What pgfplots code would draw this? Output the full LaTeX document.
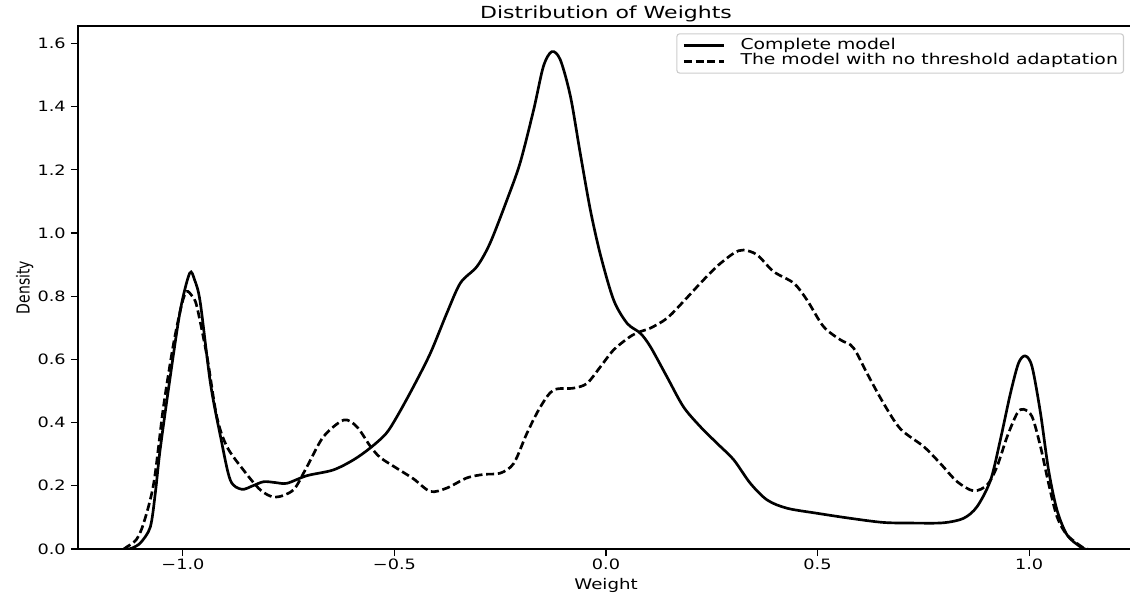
\documentclass[border=0pt]{standalone}
\usepackage{fontspec}
\setmainfont{DejaVu Sans}
\usepackage{pgfplots}
\pgfplotsset{compat=1.18}
\usepackage{graphicx}

% matplotlib output was stretched sideways, so text is widened to match
\newcommand{\wide}[1]{\scalebox{1.24}[1]{#1}}

\begin{document}
\begin{tikzpicture}
\begin{axis}[
    scale only axis,
    width=792pt, height=392.25pt,
    xmin=-1.248, xmax=1.248,
    ymin=0, ymax=1.655,
    axis line style={line width=0.83pt},
    tick style={black, line width=0.83pt},
    tick align=outside,
    major tick length=5.25pt,
    xtick pos=lower, ytick pos=left,
    xtick={-1,-0.5,0,0.5,1},
    xticklabels={\wide{−1.0},\wide{−0.5},\wide{0.0},\wide{0.5},\wide{1.0}},
    ytick={0,0.2,0.4,0.6,0.8,1.0,1.2,1.4,1.6},
    yticklabels={\wide{0.0},\wide{0.2},\wide{0.4},\wide{0.6},\wide{0.8},\wide{1.0},\wide{1.2},\wide{1.4},\wide{1.6}},
    tick label style={font=\fontsize{10.7}{12}\selectfont, inner sep=0pt},
    xticklabel style={yshift=-2.25pt},
    yticklabel style={xshift=-3.75pt},
    xlabel={\wide{Weight}},
    xlabel style={font=\fontsize{11}{13}\selectfont, inner sep=0pt},
    xlabel shift=6pt,
    ylabel={\scalebox{1}[1.28]{Density}},
    ylabel style={font=\fontsize{10.5}{13}\selectfont, inner sep=0pt},
    ylabel shift=3pt,
    title={\scalebox{1.32}[1]{Distribution of Weights}},
    every axis title/.style={font=\fontsize{12.5}{15}\selectfont, at={(rel axis cs:0.5,1)}, anchor=base, yshift=5.8pt},
    legend style={at={(rel axis cs:1,1)}, anchor=north east, xshift=-7.5pt, yshift=-5.5pt,
        draw=black!20, line width=0.8pt, rounded corners=2pt,
        font=\fontsize{11.2}{13}\selectfont,
        inner xsep=4.2pt, inner ysep=3.6pt, row sep=1.2pt,
        nodes={inner sep=0pt, text height=8pt, text depth=2.5pt},
        /tikz/every odd column/.append style={column sep=11.5pt}},
    legend cell align=left,
    legend image code/.code={\draw[#1] (0pt,0pt) -- (30pt,0pt);},
]
\addplot[black, line width=2pt, smooth, tension=0.5] coordinates {
(-1.13,0.0) (-1.12,0.003) (-1.10,0.02) (-1.077,0.07) (-1.065,0.18)
(-1.054,0.313) (-1.030,0.545) (-1.006,0.757) (-0.984,0.873) (-0.972,0.85)
(-0.959,0.78) (-0.935,0.525) (-0.911,0.355) (-0.888,0.218) (-0.861,0.189)
(-0.835,0.2) (-0.809,0.213) (-0.78,0.21) (-0.754,0.208) (-0.707,0.232)
(-0.645,0.25) (-0.597,0.282) (-0.557,0.32) (-0.52,0.365) (-0.494,0.419)
(-0.455,0.514) (-0.415,0.62) (-0.376,0.747) (-0.344,0.842) (-0.305,0.894)
(-0.274,0.968) (-0.234,1.105) (-0.203,1.222) (-0.171,1.39) (-0.148,1.527)
(-0.128,1.574) (-0.108,1.548) (-0.084,1.432) (-0.061,1.253) (-0.037,1.073)
(-0.013,0.93) (0.018,0.788) (0.050,0.714) (0.081,0.683) (0.105,0.640)
(0.144,0.545) (0.183,0.45) (0.223,0.387) (0.262,0.335) (0.302,0.282)
(0.341,0.208) (0.381,0.155) (0.428,0.129) (0.499,0.113) (0.578,0.097)
(0.656,0.084) (0.73,0.082) (0.798,0.083) (0.845,0.097) (0.877,0.134)
(0.909,0.218) (0.932,0.345) (0.956,0.493) (0.975,0.588) (0.991,0.611)
(1.007,0.577) (1.027,0.43) (1.046,0.25) (1.066,0.123) (1.090,0.044)
(1.121,0.007) (1.133,0.0)
};
\addlegendentry{\scalebox{1.26}[1]{Complete model}}
\addplot[black, line width=2pt, dash pattern=on 6pt off 2.8pt, smooth, tension=0.5] coordinates {
(-1.14,0.0) (-1.132,0.007) (-1.11,0.03) (-1.093,0.081) (-1.069,0.208)
(-1.046,0.45) (-1.022,0.651) (-1.002,0.778) (-0.991,0.815) (-0.978,0.80)
(-0.967,0.767) (-0.943,0.609) (-0.920,0.419) (-0.896,0.324) (-0.857,0.25)
(-0.817,0.187) (-0.782,0.164) (-0.739,0.187) (-0.707,0.26) (-0.668,0.355)
(-0.620,0.408) (-0.589,0.387) (-0.557,0.325) (-0.534,0.29) (-0.494,0.255)
(-0.455,0.222) (-0.415,0.182) (-0.376,0.193) (-0.329,0.225) (-0.289,0.236)
(-0.250,0.24) (-0.218,0.271) (-0.187,0.366) (-0.155,0.45) (-0.124,0.503)
(-0.077,0.509) (-0.045,0.524) (-0.013,0.577) (0.018,0.63) (0.057,0.672)
(0.081,0.688) (0.105,0.699) (0.144,0.73) (0.183,0.783) (0.223,0.841)
(0.262,0.894) (0.302,0.936) (0.325,0.946) (0.357,0.931) (0.396,0.878)
(0.444,0.841) (0.475,0.788) (0.514,0.704) (0.554,0.662) (0.578,0.646)
(0.593,0.619) (0.617,0.556) (0.656,0.461) (0.696,0.38) (0.751,0.324)
(0.790,0.271) (0.830,0.213) (0.869,0.184) (0.901,0.203) (0.924,0.26)
(0.948,0.355) (0.972,0.43) (0.987,0.442) (1.007,0.419) (1.027,0.324)
(1.046,0.208) (1.066,0.102) (1.090,0.044) (1.129,0.003) (1.14,0.0)
};
\addlegendentry{\scalebox{1.26}[1]{The model with no threshold adaptation}\hspace{2.5pt}}
\coordinate (bl) at (rel axis cs:0,0);
\coordinate (tr) at (rel axis cs:1,1);
\end{axis}
\pgfresetboundingbox
\path[use as bounding box] ([xshift=-58.5pt,yshift=-34.5pt]bl) rectangle ([xshift=-3pt,yshift=19.5pt]tr);
\end{tikzpicture}
\end{document}
